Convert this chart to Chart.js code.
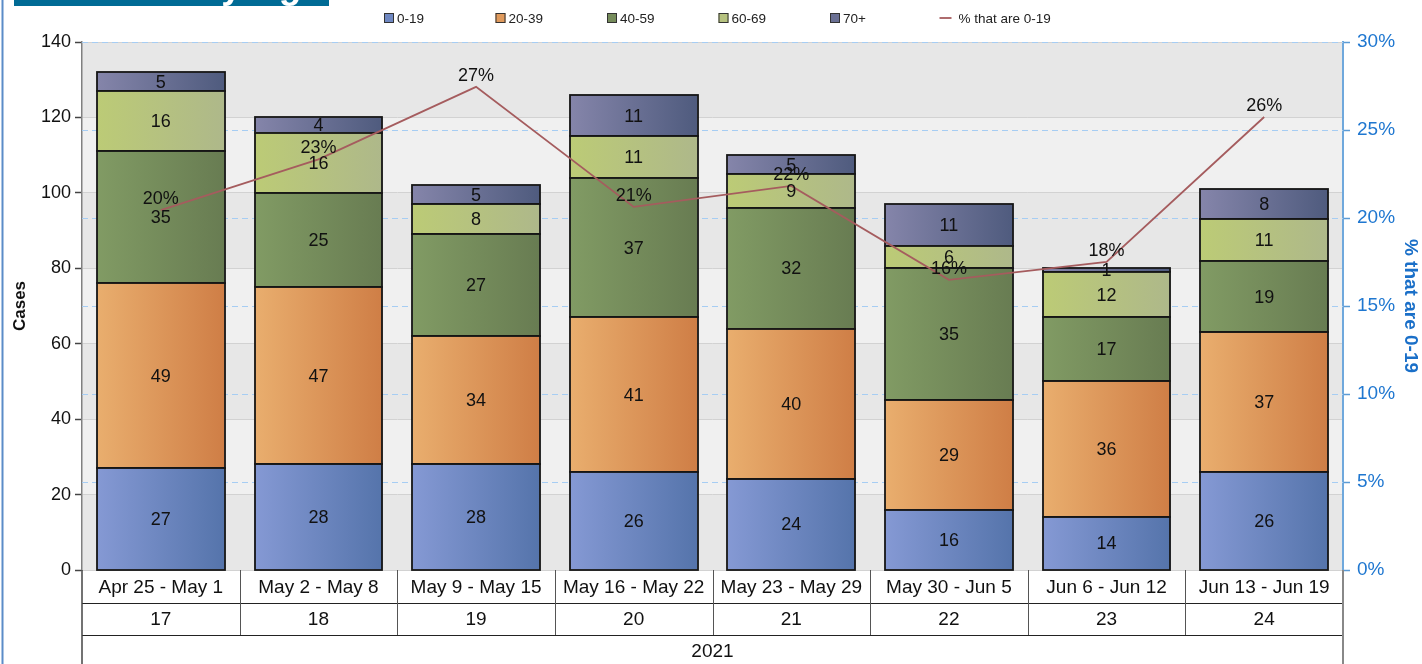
<!DOCTYPE html>
<html>
<head>
<meta charset="utf-8">
<script src="https://cdn.jsdelivr.net/npm/chart.js@4.4.1/dist/chart.umd.min.js"></script>
<style>
  html, body { margin: 0; padding: 0; background: #ffffff; }
  #wrap { position: relative; width: 1422px; height: 664px; }
</style>
</head>
<body>
<div id="wrap"><canvas id="c" width="1422" height="664"></canvas></div>
<script>
// ---- data ----
const categories = ['Apr 25 - May 1', 'May 2 - May 8', 'May 9 - May 15', 'May 16 - May 22',
                    'May 23 - May 29', 'May 30 - Jun 5', 'Jun 6 - Jun 12', 'Jun 13 - Jun 19'];
const weekNumbers = ['17', '18', '19', '20', '21', '22', '23', '24'];
const yearLabel = '2021';
const age0to19 = [27, 28, 28, 26, 24, 16, 14, 26];
const age20to39 = [49, 47, 34, 41, 40, 29, 36, 37];
const age40to59 = [35, 25, 27, 37, 32, 35, 17, 19];
const age60to69 = [16, 16, 8, 11, 9, 6, 12, 11];
const age70plus = [5, 4, 5, 11, 5, 11, 1, 8];
const pct0to19 = [20.45, 23.33, 27.45, 20.63, 21.82, 16.49, 17.5, 25.74];
const leftTicks = [0, 20, 40, 60, 80, 100, 120, 140];
const rightTicks = [0, 5, 10, 15, 20, 25, 30];
const chartTitle = 'Cases by Age';

const FONT = '"Liberation Sans", Arial, sans-serif';
const BAR_PCT = 0.81;

function gradFill(c1, c2, solid) {
  return function (ctx) {
    const chart = ctx.chart;
    const xs = chart.scales && chart.scales.x;
    if (!chart.chartArea || !xs || ctx.dataIndex === undefined) return solid;
    const w = (xs.width / categories.length) * BAR_PCT;
    const cx = xs.getPixelForValue(ctx.dataIndex);
    if (!isFinite(cx)) return solid;
    const g = chart.ctx.createLinearGradient(cx - w / 2, 0, cx + w / 2, 0);
    g.addColorStop(0, c1);
    g.addColorStop(1, c2);
    return g;
  };
}

const barSeries = [
  { label: '0-19', data: age0to19, c1: '#8599d4', c2: '#5574ab', solid: '#6f88c2' },
  { label: '20-39', data: age20to39, c1: '#e9ae6e', c2: '#cf7e46', solid: '#e09a5c' },
  { label: '40-59', data: age40to59, c1: '#819b64', c2: '#687c52', solid: '#768c5b' },
  { label: '60-69', data: age60to69, c1: '#bccb76', c2: '#aeb88a', solid: '#b6c27f' },
  { label: '70+', data: age70plus, c1: '#8585aa', c2: '#4f5b7e', solid: '#6a7094' }
];

const datasets = barSeries.map(s => ({
  type: 'bar',
  label: s.label,
  data: s.data,
  stack: 'cases',
  yAxisID: 'y',
  order: 1,
  backgroundColor: gradFill(s.c1, s.c2, s.solid),
  legendColor: s.solid,
  outlineColor: '#151515',
  borderWidth: 0,
  borderSkipped: false,
  categoryPercentage: 1.0,
  barPercentage: BAR_PCT
}));
datasets.push({
  type: 'line',
  label: '% that are 0-19',
  data: pct0to19,
  yAxisID: 'y1',
  order: 0,
  borderColor: '#a55c5e',
  borderWidth: 1.8,
  pointRadius: 0,
  tension: 0,
  fill: false
});

const decorPlugin = {
  id: 'decor',
  beforeDraw(chart) {
    const { ctx, chartArea: a, scales } = chart;
    const y = scales.y;
    ctx.save();
    // alternating bands
    for (let i = 0; i < leftTicks.length - 1; i++) {
      const y0 = y.getPixelForValue(leftTicks[i]);
      const y1 = y.getPixelForValue(leftTicks[i + 1]);
      ctx.fillStyle = (i % 2 === 0) ? '#e7e7e7' : '#f0f0f0';
      ctx.fillRect(a.left, y1, a.right - a.left, y0 - y1);
    }
    // left page border
    ctx.fillStyle = '#5b8cc8';
    ctx.fillRect(1.5, 0, 2, chart.height);
    // title box (clipped at top)
    ctx.fillStyle = '#006b95';
    ctx.fillRect(14, 0, 315, 6);
    ctx.beginPath();
    ctx.rect(14, 0, 315, 6);
    ctx.clip();
    ctx.fillStyle = '#ffffff';
    ctx.font = 'bold 37px ' + FONT;
    ctx.textAlign = 'right';
    ctx.textBaseline = 'alphabetic';
    ctx.fillText(chartTitle, 322, -2);
    ctx.restore();
  },
  beforeDatasetsDraw(chart) {
    const { ctx, chartArea: a, scales } = chart;
    const y1 = scales.y1;
    ctx.save();
    ctx.strokeStyle = '#a6cdf3';
    ctx.lineWidth = 1;
    ctx.setLineDash([6, 4]);
    rightTicks.forEach(v => {
      if (v === 0) return;
      const py = Math.round(y1.getPixelForValue(v)) + 0.5;
      ctx.beginPath();
      ctx.moveTo(a.left, py);
      ctx.lineTo(a.right, py);
      ctx.stroke();
    });
    ctx.restore();
  },
  afterDatasetDraw(chart, args) {
    const meta = args.meta;
    if (meta.type !== 'bar') return;
    const ds = chart.data.datasets[args.index];
    const { ctx } = chart;
    ctx.save();
    ctx.strokeStyle = ds.outlineColor;
    ctx.lineWidth = 1.8;
    meta.data.forEach(el => {
      const x0 = Math.round(el.x - el.width / 2);
      const x1 = Math.round(el.x + el.width / 2);
      const yt = Math.round(el.y);
      const yb = Math.round(el.base);
      ctx.strokeRect(x0, yt, x1 - x0, yb - yt);
    });
    ctx.restore();
  },
  afterDatasetsDraw(chart) {
    const { ctx } = chart;
    ctx.save();
    ctx.fillStyle = '#111111';
    ctx.font = '18px ' + FONT;
    ctx.textAlign = 'center';
    ctx.textBaseline = 'middle';
    chart.data.datasets.forEach((ds, di) => {
      const meta = chart.getDatasetMeta(di);
      if (ds.type === 'bar') {
        meta.data.forEach((el, i) => {
          const cy = (el.y + el.base) / 2;
          ctx.fillText(String(ds.data[i]), el.x, cy + 1);
        });
      } else {
        meta.data.forEach((el, i) => {
          ctx.fillText(Math.round(ds.data[i]) + '%', el.x, el.y - 11);
        });
      }
    });
    ctx.restore();
  },
  afterDraw(chart) {
    const { ctx, chartArea: a, scales } = chart;
    const xs = scales.x;
    const n = categories.length;
    const cw = (a.right - a.left) / n;
    const r0 = a.bottom, r1 = a.bottom + 33, r2 = a.bottom + 65, r3 = chart.height;
    ctx.save();
    // horizontal row lines
    ctx.strokeStyle = '#222222';
    ctx.lineWidth = 1.2;
    [r1, r2].forEach(ry => {
      ctx.beginPath();
      ctx.moveTo(a.left, ry + 0.5);
      ctx.lineTo(a.right, ry + 0.5);
      ctx.stroke();
    });
    // vertical separators
    ctx.strokeStyle = '#555555';
    ctx.lineWidth = 1;
    for (let i = 1; i < n; i++) {
      const px = Math.round(a.left + i * cw) + 0.5;
      ctx.beginPath();
      ctx.moveTo(px, r0);
      ctx.lineTo(px, r2);
      ctx.stroke();
    }
    // outer borders
    ctx.strokeStyle = '#444444';
    ctx.lineWidth = 1.5;
    ctx.beginPath();
    ctx.moveTo(a.left, r0);
    ctx.lineTo(a.left, r3);
    ctx.stroke();
    ctx.strokeStyle = '#888888';
    ctx.lineWidth = 2;
    ctx.beginPath();
    ctx.moveTo(a.right, r0);
    ctx.lineTo(a.right, r3);
    ctx.stroke();
    // texts
    ctx.fillStyle = '#111111';
    ctx.font = '19px ' + FONT;
    ctx.textAlign = 'center';
    ctx.textBaseline = 'middle';
    for (let i = 0; i < n; i++) {
      const cx = xs.getPixelForValue(i);
      ctx.fillText(categories[i], cx, (r0 + r1) / 2 + 1);
      ctx.fillText(weekNumbers[i], cx, (r1 + r2) / 2 + 1);
    }
    ctx.fillText(yearLabel, (a.left + a.right) / 2, r2 + 17);

    // legend
    ctx.font = '13.5px ' + FONT;
    ctx.textAlign = 'left';
    ctx.textBaseline = 'middle';
    const ly = 18;
    chart.data.datasets.forEach((ds, i) => {
      const x0 = 384 + i * 111.5;
      if (ds.type === 'bar') {
        ctx.fillStyle = ds.legendColor;
        ctx.fillRect(x0, ly - 5, 10, 10);
        ctx.strokeStyle = '#333333';
        ctx.lineWidth = 1;
        ctx.strokeRect(x0 + 0.5, ly - 4.5, 9, 9);
        ctx.fillStyle = '#222222';
        ctx.fillText(ds.label, x0 + 13, ly + 1);
      } else {
        ctx.strokeStyle = ds.borderColor;
        ctx.lineWidth = 1.8;
        ctx.beginPath();
        ctx.moveTo(x0 - 2, ly);
        ctx.lineTo(x0 + 10, ly);
        ctx.stroke();
        ctx.fillStyle = '#222222';
        ctx.fillText(ds.label, x0 + 17, ly + 1);
      }
    });
    ctx.restore();
  }
};

new Chart(document.getElementById('c'), {
  data: { labels: categories, datasets },
  options: {
    responsive: false,
    animation: false,
    devicePixelRatio: 1,
    layout: { padding: { top: 42, bottom: 94, left: 0, right: 0 } },
    plugins: {
      legend: { display: false },
      tooltip: { enabled: false },
      title: { display: false }
    },
    scales: {
      x: {
        display: false,
        stacked: true,
        offset: true
      },
      y: {
        position: 'left',
        stacked: true,
        min: 0,
        max: 140,
        afterFit(s) { s.width = 82; },
        afterBuildTicks(s) { s.ticks = leftTicks.map(v => ({ value: v })); },
        ticks: {
          color: '#111111',
          font: { family: FONT, size: 18 },
          padding: 4
        },
        grid: {
          color: '#d2d2d2',
          lineWidth: 1,
          tickColor: '#444444',
          tickLength: 7,
          tickWidth: 1.5
        },
        border: { color: '#808080', width: 1.5 },
        title: {
          display: true,
          text: 'Cases',
          color: '#111111',
          font: { family: FONT, size: 17, weight: 'bold' },
          padding: { top: 10, bottom: 0 }
        }
      },
      y1: {
        position: 'right',
        min: 0,
        max: 30,
        afterFit(s) { s.width = 79; },
        afterBuildTicks(s) { s.ticks = rightTicks.map(v => ({ value: v })); },
        ticks: {
          color: '#1f77d0',
          font: { family: FONT, size: 19 },
          padding: 7,
          callback: v => v + '%'
        },
        grid: {
          drawOnChartArea: false,
          tickColor: '#5b9bd5',
          tickLength: 7,
          tickWidth: 1.5
        },
        border: { color: '#6fa8dc', width: 2 },
        title: {
          display: true,
          text: '% that are 0-19',
          color: '#1a6fc8',
          font: { family: FONT, size: 19, weight: 'bold' },
          padding: { top: 0, bottom: 2 }
        }
      }
    }
  },
  plugins: [decorPlugin]
});
</script>
</body>
</html>
